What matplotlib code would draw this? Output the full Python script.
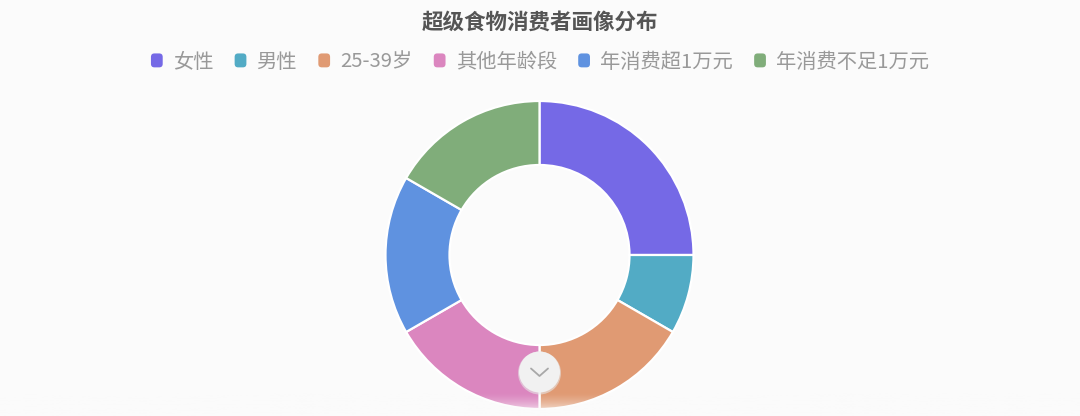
import numpy as np
import matplotlib
matplotlib.use("Agg")
import matplotlib.pyplot as plt
from matplotlib.patches import Patch, FancyBboxPatch, Circle
from matplotlib.legend_handler import HandlerPatch

plt.rcParams['font.family'] = ['Noto Sans CJK SC', 'DejaVu Sans']

# 数据
labels = ["女性", "男性", "25-39岁", "其他年龄段", "年消费超1万元", "年消费不足1万元"]
values = [75, 25, 50, 50, 50, 50]
colors = ["#7569e6", "#52abc5", "#e09a73", "#db86bf", "#5f92e0", "#80ad7a"]

BG = "#fbfbfb"
W, H = 1080, 416

fig = plt.figure(figsize=(W / 100, H / 100), dpi=100, facecolor=BG)

# 环形图，圆心 (539.5, 255) px，外半径 154 px
cx, cy, r = 539.5, 255, 154
ax = fig.add_axes([(cx - r) / W, (H - cy - r) / H, 2 * r / W, 2 * r / H])
ax.set_facecolor(BG)
ax.pie(values, colors=colors, startangle=90, counterclock=False, radius=1,
       wedgeprops=dict(width=1 - 90 / 154, edgecolor="white", linewidth=1.6))
ax.set_xlim(-1, 1)
ax.set_ylim(-1, 1)
ax.axis("off")

# 底部渐隐（下方最白）
fade = fig.add_axes([0, 0, 1, 24 / H])
grad = np.zeros((50, 2, 4))
grad[..., :3] = 251 / 255
grad[..., 3] = np.linspace(1, 0, 50)[:, None] ** 1.5
fade.imshow(grad, aspect="auto", extent=[0, 1, 0, 1], origin="lower")
fade.axis("off")

# 向下滚动按钮
btn = fig.add_axes([0, 0, 1, 1], facecolor="none")
btn.set_xlim(0, W)
btn.set_ylim(H, 0)
btn.axis("off")
btn.add_patch(Circle((539.5, 373), 21.5, facecolor="#e6e6e6", edgecolor="none", alpha=0.6))
btn.add_patch(Circle((539.5, 372), 20.5, facecolor="#f1f1f1", edgecolor="none"))
btn.plot([531, 539.5, 548], [368.5, 376, 368.5], color="#a8a8a8", lw=1.3,
         solid_capstyle="round", solid_joinstyle="round")

# 标题
fig.text(0.5, 1 - 22 / H, "超级食物消费者画像分布", ha="center", va="center",
         fontsize=15.5, fontweight="bold", color="#555555")


# 图例
def rounded_box(legend, orig_handle, xdescent, ydescent, width, height, fontsize):
    return FancyBboxPatch((-xdescent, -ydescent), width, height,
                          boxstyle="round,pad=0,rounding_size=2.5")


handles = [Patch(facecolor=c, edgecolor="none") for c in colors]
leg = fig.legend(handles, labels, loc="center", bbox_to_anchor=(0.5, 1 - 62 / H),
                 ncol=6, frameon=False, fontsize=14.6, labelcolor="#999999",
                 handlelength=0.58, handleheight=0.68, handletextpad=0.5,
                 columnspacing=1.05,
                 handler_map={Patch: HandlerPatch(patch_func=rounded_box)})

fig.savefig("out.png", dpi=100, facecolor=BG)
